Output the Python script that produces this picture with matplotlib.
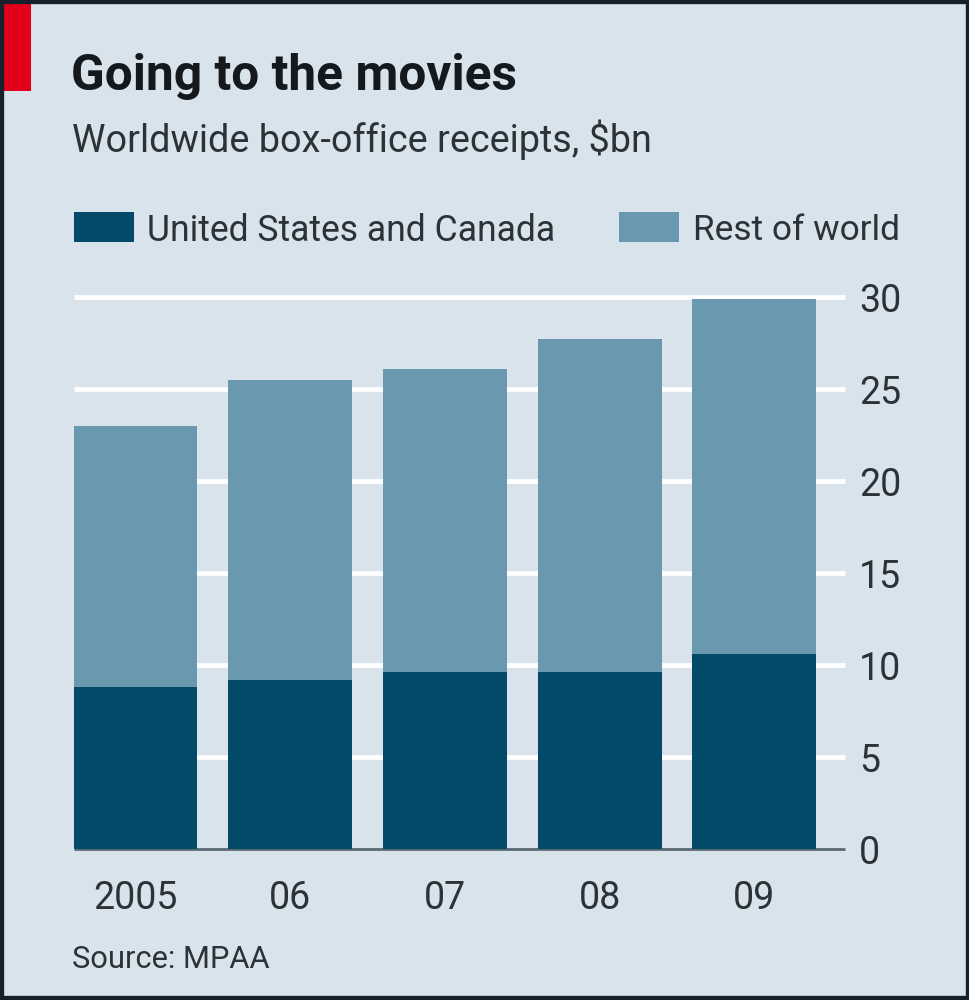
import matplotlib
matplotlib.use("Agg")
import matplotlib.pyplot as plt
from matplotlib.patches import Rectangle
from matplotlib.transforms import ScaledTranslation

years = ["2005", "06", "07", "08", "09"]
us_canada = [8.8, 9.2, 9.6, 9.6, 10.6]
totals = [23.0, 25.5, 26.1, 27.7, 29.9]
rest_of_world = [t - u for t, u in zip(totals, us_canada)]
yticks = [0, 5, 10, 15, 20, 25, 30]

BG = "#d8e3eb"
DARK = "#034a68"
LIGHT = "#6a98ae"
TXT = "#2b3338"
W, H = 970, 1000
plt.rcParams['font.family'] = ['Roboto', 'DejaVu Sans']

fig = plt.figure(figsize=(W / 100, H / 100), dpi=100, facecolor=BG)

def fx(p): return p / W
def fy(p): return 1 - p / H

ax = fig.add_axes([fx(74), fy(849), (845 - 74) / W, (849 - 297) / H])
ax.set_facecolor("none")
pos = list(range(len(years)))
ax.set_xlim(-0.3975, 4.586)
ax.set_ylim(0, 30)
ax.yaxis.grid(True, color="white", lw=3.4, zorder=0)
ax.set_axisbelow(True)
ax.bar(pos, us_canada, width=0.80, color=DARK, zorder=3)
ax.bar(pos, rest_of_world, bottom=us_canada, width=0.80, color=LIGHT, zorder=3)
for s in ax.spines.values():
    s.set_visible(False)
ax.axhline(0, color="#5a6a72", lw=2.0, zorder=2, clip_on=False, solid_capstyle="butt")
ax.yaxis.tick_right()
ax.set_yticks(yticks)
ax.set_xticks(pos)
ax.set_xticklabels(years)
ax.tick_params(axis="y", length=0, pad=10, labelsize=27, labelcolor=TXT)
ax.tick_params(axis="x", length=0, pad=22, labelsize=27, labelcolor=TXT)
for gl in ax.get_ygridlines():
    gl.set_clip_on(False)
    gl.set_solid_capstyle("butt")
ax.get_ygridlines()[0].set_visible(False)
shift = ScaledTranslation(0, -1 / 100, fig.dpi_scale_trans)
for lab in ax.get_yticklabels():
    lab.set_transform(lab.get_transform() + shift)

fig.add_artist(Rectangle((0, fy(91)), fx(31), 91 / H, transform=fig.transFigure, color="#e3001b", lw=0))
fig.add_artist(Rectangle((0, 0), 1, 1, transform=fig.transFigure, fill=False, ec="#15202a", lw=6))

fig.text(fx(71), fy(77), "Going to the movies", fontsize=35.7, fontweight="bold", color="#14191d",
         va="center", ha="left")
fig.text(fx(72), fy(140), "Worldwide box-office receipts, $bn", fontsize=27.2, color=TXT, va="center", ha="left")
fig.add_artist(Rectangle((fx(74), fy(242)), 60 / W, 30 / H, transform=fig.transFigure, color=DARK, lw=0))
fig.text(fx(147), fy(231), "United States and Canada", fontsize=25.6, color=TXT, va="center", ha="left")
fig.add_artist(Rectangle((fx(619), fy(242)), 60 / W, 30 / H, transform=fig.transFigure, color=LIGHT, lw=0))
fig.text(fx(693), fy(231), "Rest of world", fontsize=25.4, color=TXT, va="center", ha="left")
fig.text(fx(72), fy(960), "Source: MPAA", fontsize=22.2, color=TXT, va="center", ha="left")

fig.savefig("out.png", dpi=100, facecolor=BG)
